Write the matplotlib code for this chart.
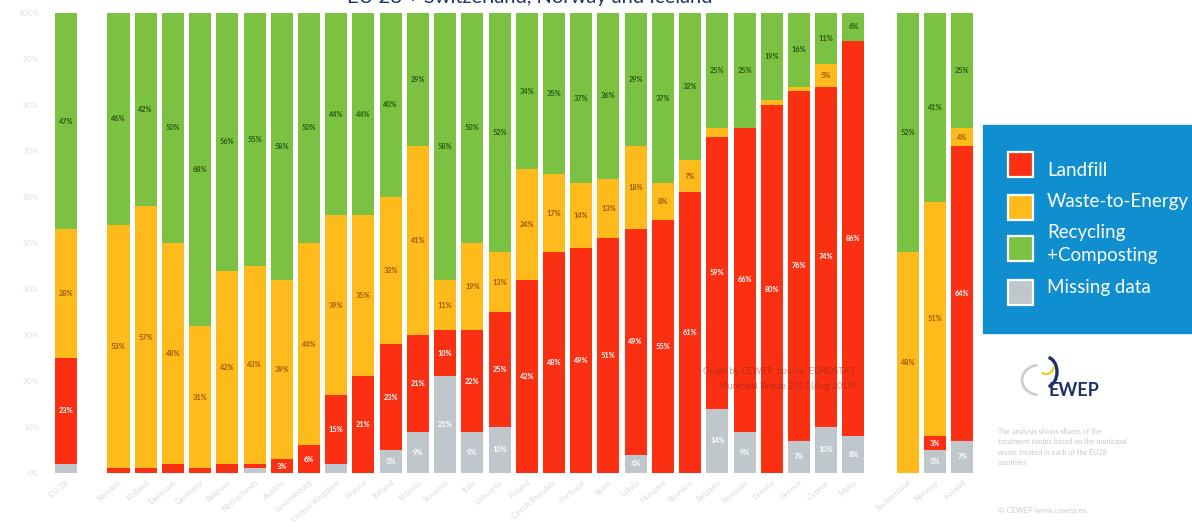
import matplotlib
matplotlib.use("Agg")
import matplotlib.pyplot as plt
from matplotlib.patches import Rectangle, Arc

plt.rcParams['font.family'] = ['Lato', 'DejaVu Sans']

# municipal waste treatment shares, %
countries = ["EU 28", "Sweden", "Finland", "Denmark", "Germany", "Belgium",
             "Netherlands", "Austria", "Luxembourg", "United Kingdom", "France",
             "Ireland", "Estonia", "Slovenia", "Italy", "Lithuania", "Poland",
             "Czech Republic", "Portugal", "Spain", "Latvia", "Hungary",
             "Slovakia", "Bulgaria", "Romania", "Croatia", "Greece", "Cyprus",
             "Malta", "Switzerland", "Norway", "Iceland"]
recycling = [47, 46, 42, 50, 68, 56, 55, 58, 50, 44, 44, 40, 29, 58, 50, 52,
             34, 35, 37, 36, 29, 37, 32, 25, 25, 19, 16, 11, 6, 52, 41, 25]
wte = [28, 53, 57, 48, 31, 42, 43, 39, 44, 39, 35, 32, 41, 11, 19, 13,
       24, 17, 14, 13, 18, 8, 7, 2, 0, 1, 1, 5, 0, 48, 51, 4]
landfill = [23, 1, 1, 2, 1, 2, 1, 3, 6, 15, 21, 23, 21, 10, 22, 25,
            42, 48, 49, 51, 49, 55, 61, 59, 66, 80, 76, 74, 86, 0, 3, 64]
missing = [2, 0, 0, 0, 0, 0, 1, 0, 0, 2, 0, 5, 9, 21, 9, 10,
           0, 0, 0, 0, 4, 0, 0, 14, 9, 0, 7, 10, 8, 0, 5, 7]
y_ticks = [0, 10, 20, 30, 40, 50, 60, 70, 80, 90, 100]

RED = '#fb3012'
YELLOW = '#ffbb1c'
GREEN = '#7cc242'
GREY = '#bfc6cc'
BLUE = '#0f8fcf'

# EU total on its own, then member states, then the three non-EU countries
xpos = [-1.93] + list(range(28)) + [29, 30, 31]

fig = plt.figure(figsize=(11.92, 5.30), dpi=100)
ax = fig.add_axes([45 / 1192, 57 / 530, 935 / 1192, 460 / 530])

series = [(missing, GREY, 'white'),
          (landfill, RED, 'white'),
          (wte, YELLOW, '#9c5a04'),
          (recycling, GREEN, '#2b5710')]
bottom = [0] * len(xpos)
for values, color, text_color in series:
    ax.bar(xpos, values, bottom=bottom, width=0.81, color=color,
           linewidth=0, zorder=2)
    for x, v, b in zip(xpos, values, bottom):
        if v >= 3:
            ax.text(x, b + v / 2, f"{v}%", ha='center', va='center',
                    fontsize=5.3, fontweight='bold', color=text_color,
                    zorder=3)
    bottom = [b + v for b, v in zip(bottom, values)]

ax.set_xlim(-2.70, 31.65)
ax.set_ylim(0, 100)
ax.set_yticks(y_ticks, [f"{t}%" for t in y_ticks], fontsize=6,
              color='#e0e0e0')
ax.set_xticks(xpos, countries, rotation=40, ha='right',
              rotation_mode='anchor', fontsize=6, color='#dadada')
ax.tick_params(length=0, pad=4)
for side in ax.spines.values():
    side.set_visible(False)

# overlay in pixel units for the title, legend panel and notes
ov = fig.add_axes([0, 0, 1, 1])
ov.set_xlim(0, 1192)
ov.set_ylim(530, 0)
ov.axis('off')

ov.text(530, -3, "EU 28 + Switzerland, Norway and Iceland", ha='center',
        va='center', fontsize=14.5, color='#1d3566')

ov.add_patch(Rectangle((983, 125), 215, 208, color=BLUE, zorder=1))
legend_items = [(RED, 152, "Landfill", 170),
                (YELLOW, 195, "Waste-to-Energy", 201),
                (GREEN, 236, "Recycling\n+Composting", 244),
                (GREY, 280, "Missing data", 288)]
for color, top, label, ty in legend_items:
    ov.add_patch(Rectangle((1008, top), 25, 25, facecolor=color,
                           edgecolor='white', linewidth=1.6, zorder=2))
    ov.text(1047, ty, label, ha='left', va='center', fontsize=13.5,
            color='white', linespacing=1.4, zorder=3)

# CEWEP mark
ov.add_patch(Arc((1040, 380), 36, 30, theta1=100, theta2=260,
                 color='#c9ced6', linewidth=2))
ov.add_patch(Arc((1046, 372), 22, 30, theta1=-80, theta2=80,
                 color='#1d2f6b', linewidth=2.4))
ov.add_patch(Arc((1046, 365), 16, 18, theta1=10, theta2=120,
                 color='#e6d21c', linewidth=1.6))
ov.text(1048, 391, "EWEP", ha='left', va='center', fontsize=13,
        fontweight='bold', color='#1d2f6b')

ov.text(998, 447, "The analysis shows shares of the\n"
        "treatment routes based on the municipal\n"
        "waste treated in each of the EU28\n"
        "countries",
        ha='left', va='center', fontsize=5.2, color='#c8c8c8',
        linespacing=1.6)
ov.text(998, 510, "© CEWEP www.cewep.eu", ha='left', va='center',
        fontsize=5.5, color='#cccccc')

ov.text(855, 379, "Graph by CEWEP, Source: EUROSTAT\n"
        "Municipal Waste 2017 (Aug 2019)", ha='right', va='center',
        fontsize=6.5, color='#6a2a20', alpha=0.45, linespacing=1.7)

fig.savefig('out.png', dpi=100, facecolor='white')
